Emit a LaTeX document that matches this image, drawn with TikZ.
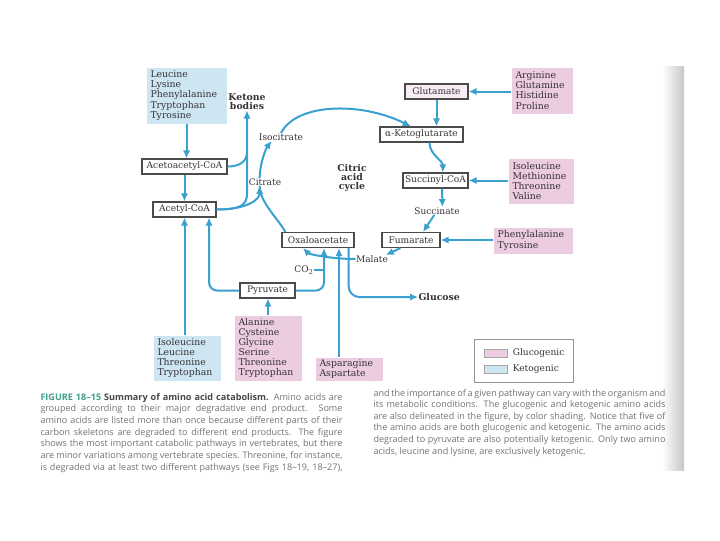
\documentclass[tikz,border=0pt]{standalone}
\usepackage{fontspec}
\setmainfont{DejaVu Serif}
\newfontfamily\capfont{Open Sans}
\usetikzlibrary{arrows.meta,positioning}

\definecolor{arrowblue}{RGB}{58,160,208}
\definecolor{glucopink}{RGB}{236,204,225}
\definecolor{ketoblue}{RGB}{205,230,241}
\definecolor{boxline}{RGB}{75,75,75}
\definecolor{diatext}{RGB}{55,50,55}
\definecolor{capgray}{RGB}{115,115,115}
\definecolor{capdark}{RGB}{70,70,70}
\definecolor{figteal}{RGB}{60,160,140}

\tikzset{every picture/.style={line width=0.75pt}}
\tikzset{
  pathway/.style={draw=arrowblue, line width=1.5pt, -{Latex[length=6pt,width=5.5pt]}},
  plainway/.style={draw=arrowblue, line width=1.5pt},
  metabox/.style={draw=boxline, line width=0.9pt, fill=white, inner sep=0pt, minimum height=11.25pt, font=\fontsize{6.8}{8}\selectfont, text=diatext},
  aminobox/.style={anchor=north west, align=left, inner xsep=3pt, inner ysep=0pt, font=\fontsize{7}{7.6}\selectfont, text=diatext},
  glucofill/.style={aminobox, fill=glucopink},
  ketofill/.style={aminobox, fill=ketoblue},
  metalabel/.style={inner sep=0pt, font=\fontsize{6.8}{8}\selectfont, text=diatext},
  boldlabel/.style={inner sep=0pt, align=center, font=\fontsize{7}{6.8}\selectfont\bfseries, text=diatext},
  capline/.style={anchor=base west, inner sep=0pt, font=\capfont\fontsize{6.8}{8}\selectfont, text=capgray},
}

\begin{document}
\begin{tikzpicture}[x=0.75pt,y=0.75pt,yscale=-1,xscale=1]
\path[use as bounding box, fill=white] (0,0) rectangle (720,540);

%Shape: page shadow
\shade[left color=white, right color=black!22] (662,66) rectangle (684,470);

% Amino acid boxes
\node[ketofill, text width=54pt, minimum height=42pt] (ketoTop) at (146,67) {Leucine\\Lysine\\Phenylalanine\\Tryptophan\\Tyrosine};
\node[glucofill, text width=39.75pt, minimum height=34.5pt] (argBox) at (511,67) {Arginine\\Glutamine\\Histidine\\Proline};
\node[glucofill, text width=42.75pt, minimum height=33.75pt] (ileBox) at (508,158) {Isoleucine\\Methionine\\Threonine\\Valine};
\node[glucofill, text width=53.25pt, minimum height=19.5pt] (pheBox) at (493,227) {Phenylalanine\\Tyrosine};
\node[ketofill, text width=44.25pt, minimum height=33.75pt] (ileKeto) at (153,335) {Isoleucine\\Leucine\\Threonine\\Tryptophan};
\node[glucofill, text width=44.25pt, minimum height=48.75pt] (alaBox) at (234,315) {Alanine\\Cysteine\\Glycine\\Serine\\Threonine\\Tryptophan};
\node[glucofill, text width=44.25pt, minimum height=17.25pt] (asnBox) at (315,357) {Asparagine\\Aspartate};

% Metabolite boxes
\node[metabox, minimum width=63.75pt] (acac) at (184.5,166.5) {Acetoacetyl-CoA};
\node[metabox, minimum width=47.25pt] (acetyl) at (184.5,209.5) {Acetyl-CoA};
\node[metabox, minimum width=47.25pt, fill=glucopink!35] (glutamate) at (436.5,91.5) {Glutamate};
\node[metabox, minimum width=62.25pt] (akg) at (421.5,134.5) {α-Ketoglutarate};
\node[metabox, minimum width=48.75pt] (succoa) at (435.5,180.5) {Succinyl-CoA};
\node[metabox, minimum width=43.5pt] (fumarate) at (411,240) {Fumarate};
\node[metabox, minimum width=54pt] (oaa) at (318,240) {Oxaloacetate};
\node[metabox, minimum width=41.25pt] (pyruvate) at (267.5,290.5) {Pyruvate};

% Text Node
\node[metalabel] (citrate) at (265,182) {Citrate};
\node[metalabel] (isocitrate) at (281,137) {Isocitrate};
\node[metalabel] (succinate) at (437,211) {Succinate};
\node[metalabel] (malate) at (372,259) {Malate};
\node[metalabel] (co2) at (304,270) {CO\textsubscript{2}};
\node[boldlabel] (ketone) at (247,102) {Ketone\\bodies};
\node[boldlabel] (cycle) at (352,178) {Citric\\acid\\cycle};
\node[boldlabel, anchor=west] (glucose) at (418,297) {Glucose};

% Coordinates
\coordinate (kbJoin) at (247,194);
\coordinate (kbMerge) at (247,152);

% Ketone bodies and citrate
\draw[pathway] (ketoTop.south) -- (ketoTop.south |- acac.north);
\draw[pathway] (acac.south) -- (acac.south |- acetyl.north);
\draw[pathway] (acetyl.east) .. controls +(22,0) and +(0,12) .. (kbJoin) -- (ketone.south);
\draw[plainway] (acac.east) .. controls +(14,0) and +(0,8) .. (kbMerge);
\draw[pathway] (acetyl.east) .. controls +(30,0) and +(0,14) .. ([xshift=-4pt]citrate.south);
\draw[plainway] ([xshift=3pt]oaa.north west) .. controls +(-8,-14) and +(0,16) .. ([xshift=-4pt]citrate.south);

% Citric acid cycle
\draw[pathway] ([xshift=-4pt]citrate.north) .. controls +(0,-14) and +(-6,8) .. ([xshift=-7pt]isocitrate.south);
\draw[pathway] (isocitrate.north) .. controls +(15,-30) and +(-50,-25) .. ([xshift=-8pt]akg.north);
\draw[pathway] (argBox.west |- glutamate.east) -- (glutamate.east);
\draw[pathway] (glutamate.south) -- (glutamate.south |- akg.north);
\draw[pathway] ([xshift=6pt]akg.south) .. controls +(0,12) and +(0,-12) .. ([xshift=5.5pt]succoa.north);
\draw[pathway] (ileBox.west |- succoa.east) -- (succoa.east);
\draw[pathway] ([xshift=5pt]succoa.south) -- ([xshift=4pt]succinate.north);
\draw[pathway] ([xshift=-2pt]succinate.south) -- ([xshift=9pt]fumarate.north);
\draw[pathway] (pheBox.west |- fumarate.east) -- (fumarate.east);
\draw[pathway] ([xshift=-8pt]fumarate.south) -- ([xshift=-2pt]malate.north east);
\draw[pathway] (malate.west) .. controls +(-25,0) and +(6,6) .. ([xshift=-11.25pt]oaa.south);

% Pyruvate, CO2, asparagine, glucose
\draw[pathway, rounded corners=6pt] (pyruvate.east) -| ([xshift=4.5pt]oaa.south);
\draw[draw=arrowblue, line width=1pt] (co2.east) -- ([xshift=4.5pt]oaa.south |- co2.east);
\draw[pathway] ([xshift=15.75pt]oaa.south |- asnBox.north) -- ([xshift=15.75pt]oaa.south);
\draw[pathway, rounded corners=8pt] ([xshift=23pt]oaa.south) |- (glucose.west);
\draw[pathway, rounded corners=6pt] (pyruvate.west) -| ([xshift=18.4pt]acetyl.south);
\draw[pathway] (acetyl.south |- ileKeto.north) -- (acetyl.south);
\draw[pathway] (alaBox.north) -- (alaBox.north |- pyruvate.south);

%Shape: legend
\node[draw=boxline!60, line width=0.6pt, anchor=north west, minimum width=74.25pt, minimum height=32.25pt, inner sep=0pt] (legend) at (474,339) {};
\node[fill=glucopink, draw=black!35, line width=0.5pt, anchor=west, minimum width=17.25pt, minimum height=6pt, inner sep=0pt] (swGluco) at (484,353) {};
\node[fill=ketoblue, draw=black!35, line width=0.5pt, anchor=west, minimum width=17.25pt, minimum height=6pt, inner sep=0pt] (swKeto) at (484,369) {};
\node[metalabel, right=3.5pt of swGluco] (txGluco) {Glucogenic};
\node[metalabel, right=3.5pt of swKeto] (txKeto) {Ketogenic};

% Caption, left column
\node[capline] (capL1) at (40,400) {\makebox[226.5pt][s]{{\bfseries\color{figteal}FIGURE 18–15} {\bfseries\color{capdark}Summary of amino acid catabolism.} Amino acids are}};
\node[capline] (capL2) at (40,411.7) {\makebox[226.5pt][s]{grouped according to their major degradative end product. Some}};
\node[capline] (capL3) at (40,423.4) {\makebox[226.5pt][s]{amino acids are listed more than once because different parts of their}};
\node[capline] (capL4) at (40,435.1) {\makebox[226.5pt][s]{carbon skeletons are degraded to different end products. The figure}};
\node[capline] (capL5) at (40,446.8) {\makebox[226.5pt][s]{shows the most important catabolic pathways in vertebrates, but there}};
\node[capline] (capL6) at (40,458.5) {\makebox[226.5pt][s]{are minor variations among vertebrate species. Threonine, for instance,}};
\node[capline] (capL7) at (40,470.2) {\makebox[226.5pt][s]{is degraded via at least two different pathways (see Figs 18–19, 18–27),}};

% Caption, right column
\node[capline] (capR1) at (373,396) {\makebox[219pt][s]{and the importance of a given pathway can vary with the organism and}};
\node[capline] (capR2) at (373,407.6) {\makebox[219pt][s]{its metabolic conditions. The glucogenic and ketogenic amino acids}};
\node[capline] (capR3) at (373,419.2) {\makebox[219pt][s]{are also delineated in the figure, by color shading. Notice that five of}};
\node[capline] (capR4) at (373,430.8) {\makebox[219pt][s]{the amino acids are both glucogenic and ketogenic. The amino acids}};
\node[capline] (capR5) at (373,442.4) {\makebox[219pt][s]{degraded to pyruvate are also potentially ketogenic. Only two amino}};
\node[capline] (capR6) at (373,454) {acids, leucine and lysine, are exclusively ketogenic.};

\end{tikzpicture}
\end{document}
